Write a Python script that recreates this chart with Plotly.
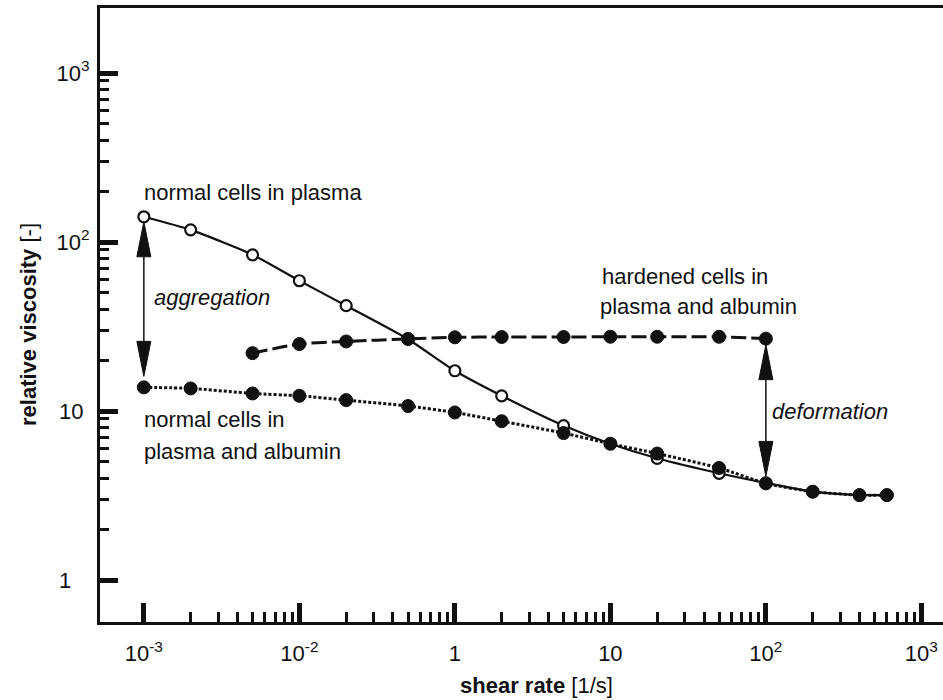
import numpy as np
import plotly.graph_objects as go

# ---- data -------------------------------------------------------------
shear_rate = [0.01, 0.02, 0.05, 0.1, 0.2, 0.5, 1, 2, 5, 10, 20, 50, 100, 200, 400, 600]
visc_plasma = [141, 118, 84, 59, 42, 26.6, 17.3, 12.3, 8.2, 6.4, 5.25, 4.28, 3.75, 3.33, 3.18, 3.18]
visc_albumin = [13.8, 13.6, 12.7, 12.3, 11.6, 10.7, 9.8, 8.7, 7.4, 6.4, 5.6, 4.6, 3.73, 3.33, 3.18, 3.18]

shear_rate_hard = [0.05, 0.1, 0.2, 0.5, 1, 2, 5, 10, 20, 50, 100]
visc_hardened = [22.0, 24.9, 25.8, 26.7, 27.3, 27.4, 27.4, 27.5, 27.5, 27.5, 26.8]

x_tickvals = [0.01, 0.1, 1, 10, 100, 1000]
x_ticktext = ["10<sup>-3</sup>", "10<sup>-2</sup>", "1", "10", "10<sup>2</sup>", "10<sup>3</sup>"]
y_tickvals = [1, 10, 100, 1000]
y_ticktext = ["1\u2007\u00a0", "10\u00a0", "10<sup>2</sup>", "10<sup>3</sup>"]

x_minor = [m * 10.0 ** e for e in range(-2, 3) for m in range(2, 10)]
y_minor = [m * 10.0 ** e for e in range(0, 3) for m in range(2, 10)]

# ---- geometry of the plotting area (pixels) --------------------------
W, H = 943, 700
L, R, T, B = 100, 943, 8, 622
X_RANGE = [-2.282, 3.139]
Y_RANGE = [np.log10(1) - (B - 580) / 169.0, (580 - T) / 169.0]
PX_PER_DEC_X = (R - L) / (X_RANGE[1] - X_RANGE[0])
PX_PER_DEC_Y = (B - T) / (Y_RANGE[1] - Y_RANGE[0])


def paper_x(xp):
    return (xp - L) / (R - L)


def paper_y(yp):
    return (B - yp) / (B - T)


FONT = "Liberation Sans, Arial, Helvetica, sans-serif"
BLACK = "#111111"

fig = go.Figure()

# normal cells in plasma: solid line, open circles
fig.add_trace(go.Scatter(
    x=shear_rate, y=visc_plasma, mode="lines+markers",
    line=dict(color=BLACK, width=2.2, shape="spline", smoothing=0.6),
    marker=dict(symbol="circle", size=11, color="white", line=dict(color=BLACK, width=2.2)),
    showlegend=False, hoverinfo="x+y",
))

# normal cells in plasma and albumin: dotted line, filled circles
fig.add_trace(go.Scatter(
    x=shear_rate, y=visc_albumin, mode="lines+markers",
    line=dict(color=BLACK, width=3, dash="3px,2px", shape="spline", smoothing=0.6),
    marker=dict(symbol="circle", size=13, color=BLACK, line=dict(color=BLACK, width=1)),
    showlegend=False, hoverinfo="x+y",
))

# hardened cells in plasma and albumin: long-dash line, filled circles
fig.add_trace(go.Scatter(
    x=shear_rate_hard, y=visc_hardened, mode="lines+markers",
    line=dict(color=BLACK, width=3, dash="15px,5px", shape="spline", smoothing=0.6),
    marker=dict(symbol="circle", size=13, color=BLACK, line=dict(color=BLACK, width=1)),
    showlegend=False, hoverinfo="x+y",
))


# double-headed arrows between two curves at one shear rate
def add_double_arrow(x, y_top, y_bot, gap_top, gap_bot, head_len=35, head_half=7):
    lx = np.log10(x)
    tip_top = np.log10(y_top) - gap_top / PX_PER_DEC_Y
    tip_bot = np.log10(y_bot) + gap_bot / PX_PER_DEC_Y
    dl = head_len / PX_PER_DEC_Y
    dx = head_half / PX_PER_DEC_X
    fig.add_trace(go.Scatter(
        x=[x, x], y=[10 ** (tip_top - dl), 10 ** (tip_bot + dl)], mode="lines",
        line=dict(color=BLACK, width=1.5), showlegend=False, hoverinfo="skip",
    ))
    for tip, sgn in ((tip_top, -1), (tip_bot, 1)):
        fig.add_trace(go.Scatter(
            x=[x, 10 ** (lx - dx), 10 ** (lx + dx), x],
            y=[10 ** tip, 10 ** (tip + sgn * dl), 10 ** (tip + sgn * dl), 10 ** tip],
            mode="lines", fill="toself", fillcolor=BLACK,
            line=dict(color=BLACK, width=1), showlegend=False, hoverinfo="skip",
        ))


add_double_arrow(shear_rate[0], visc_plasma[0], visc_albumin[0], 5, 11)
add_double_arrow(shear_rate_hard[-1], visc_hardened[-1], visc_albumin[12], 6, 7)

# ---- text labels -------------------------------------------------------
labels = [
    ("normal cells in plasma", 142, 192, False),
    ("aggregation", 152, 297, True),
    ("hardened cells in", 600, 276, False),
    ("plasma and albumin", 598, 306, False),
    ("normal cells in", 142, 419, False),
    ("plasma and albumin", 142, 451, False),
    ("deformation", 770, 411, True),
]
annotations = []
for text, xp, yp, italic in labels:
    annotations.append(dict(
        text=f"<i>{text}</i>" if italic else text,
        x=paper_x(xp), y=paper_y(yp), xref="paper", yref="paper",
        xanchor="left", yanchor="middle", showarrow=False,
        font=dict(family=FONT, size=22, color=BLACK),
    ))

# axis titles
annotations.append(dict(
    text="<b>shear rate</b> [1/s]", x=paper_x(536), y=paper_y(685),
    xref="paper", yref="paper", xanchor="center", yanchor="middle",
    showarrow=False, font=dict(family=FONT, size=22, color=BLACK),
))
annotations.append(dict(
    text="<b>relative viscosity</b> [-]", x=paper_x(28), y=paper_y(325),
    xref="paper", yref="paper", xanchor="center", yanchor="middle",
    textangle=-90, showarrow=False, font=dict(family=FONT, size=22, color=BLACK),
))

fig.update_layout(
    width=W, height=H,
    margin=dict(l=L, r=W - R, t=T, b=H - B),
    paper_bgcolor="white", plot_bgcolor="white",
    font=dict(family=FONT, size=22, color=BLACK),
    annotations=annotations,
    xaxis=dict(
        type="log", range=X_RANGE, showgrid=False, zeroline=False,
        showline=True, linecolor=BLACK, linewidth=3, mirror=True,
        tickmode="array", tickvals=x_tickvals, ticktext=x_ticktext,
        ticks="inside", ticklen=19, tickwidth=4.5, tickcolor=BLACK,
        ticklabelstandoff=10,
        tickfont=dict(family=FONT, size=22, color=BLACK),
        minor=dict(tickmode="array", tickvals=x_minor, ticks="inside",
                   ticklen=10, tickwidth=3, tickcolor=BLACK, showgrid=False),
    ),
    yaxis=dict(
        type="log", range=Y_RANGE, showgrid=False, zeroline=False,
        showline=True, linecolor=BLACK, linewidth=3, mirror=False,
        tickmode="array", tickvals=y_tickvals, ticktext=y_ticktext,
        ticks="inside", ticklen=18, tickwidth=4.5, tickcolor=BLACK,
        ticklabelstandoff=3,
        tickfont=dict(family=FONT, size=22, color=BLACK),
        minor=dict(tickmode="array", tickvals=y_minor, ticks="inside",
                   ticklen=9, tickwidth=3, tickcolor=BLACK, showgrid=False),
    ),
)

fig.write_html("out.html")
